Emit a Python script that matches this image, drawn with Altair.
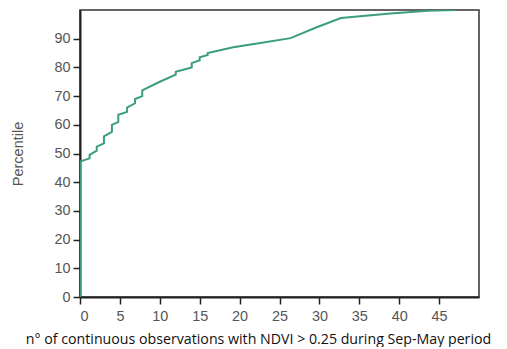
import altair as alt
import pandas as pd

obs = [0, 0, 1.2, 1.2, 2.1, 2.1, 3.0, 3.0, 4.0, 4.0, 4.8, 4.8, 5.9, 5.9, 6.9, 6.9, 7.8, 7.8,
       10, 12, 12, 14, 14, 15, 15, 16, 16, 19.2, 22.6, 26.4, 29.5, 32.7, 38.9, 43.6, 47]
pct = [0, 47.2, 48.3, 49.5, 51, 52.4, 53.5, 56, 57.5, 60, 61, 63.5, 64.5, 66, 67.5, 69, 70, 72,
       75, 77.5, 78.5, 80, 81.5, 82.5, 83.5, 84.3, 85, 87, 88.5, 90.2, 93.8, 97.2, 98.8, 99.7, 100]
order = list(range(len(obs)))

x_ticks = [0, 5, 10, 15, 20, 25, 30, 35, 40, 45]
y_ticks = [0, 10, 20, 30, 40, 50, 60, 70, 80, 90]

df = pd.DataFrame({"obs": obs, "pct": pct, "order": order})

chart = alt.Chart(df).mark_line(color="#3a9e7e", strokeWidth=2, clip=True).encode(
    x=alt.X("obs:Q", scale=alt.Scale(domain=[0, 50], nice=False, zero=False),
            axis=alt.Axis(values=x_ticks, title="n° of continuous observations with NDVI > 0.25 during Sep-May period",
                          grid=False, labelFont="Liberation Sans", labelFontSize=14.4, labelColor="#555",
                          titleFont="Open Sans", titleFontSize=14.2, titleFontWeight="normal", titleColor="#111",
                          titleX=178, titleY=46, titleBaseline="alphabetic", titleAlign="center",
                          tickSize=7, tickWidth=1.5, tickColor="#222",
                          domainColor="#222", domainWidth=2, labelPadding=5)),
    y=alt.Y("pct:Q", scale=alt.Scale(domain=[0, 100], nice=False),
            axis=alt.Axis(values=y_ticks, title="Percentile", grid=False,
                          labelFont="Liberation Sans", labelFontSize=14.4, labelColor="#555",
                          titleFont="Liberation Sans", titleFontSize=14.5, titleFontWeight="normal",
                          titleColor="#555", titleX=-62, titleBaseline="middle",
                          tickSize=7, tickWidth=1.5,
                          tickColor="#222", domainColor="#222", domainWidth=2, labelPadding=3)),
    order="order:Q",
).properties(
    width=399, height=287,
    autosize=alt.AutoSizeParams(type="none"),
    padding={"left": 72, "top": 2, "right": 20, "bottom": 50},
).configure_view(stroke="#333", strokeWidth=1.5)

chart.save("out.html", embed_options={"renderer": "svg", "actions": False})
